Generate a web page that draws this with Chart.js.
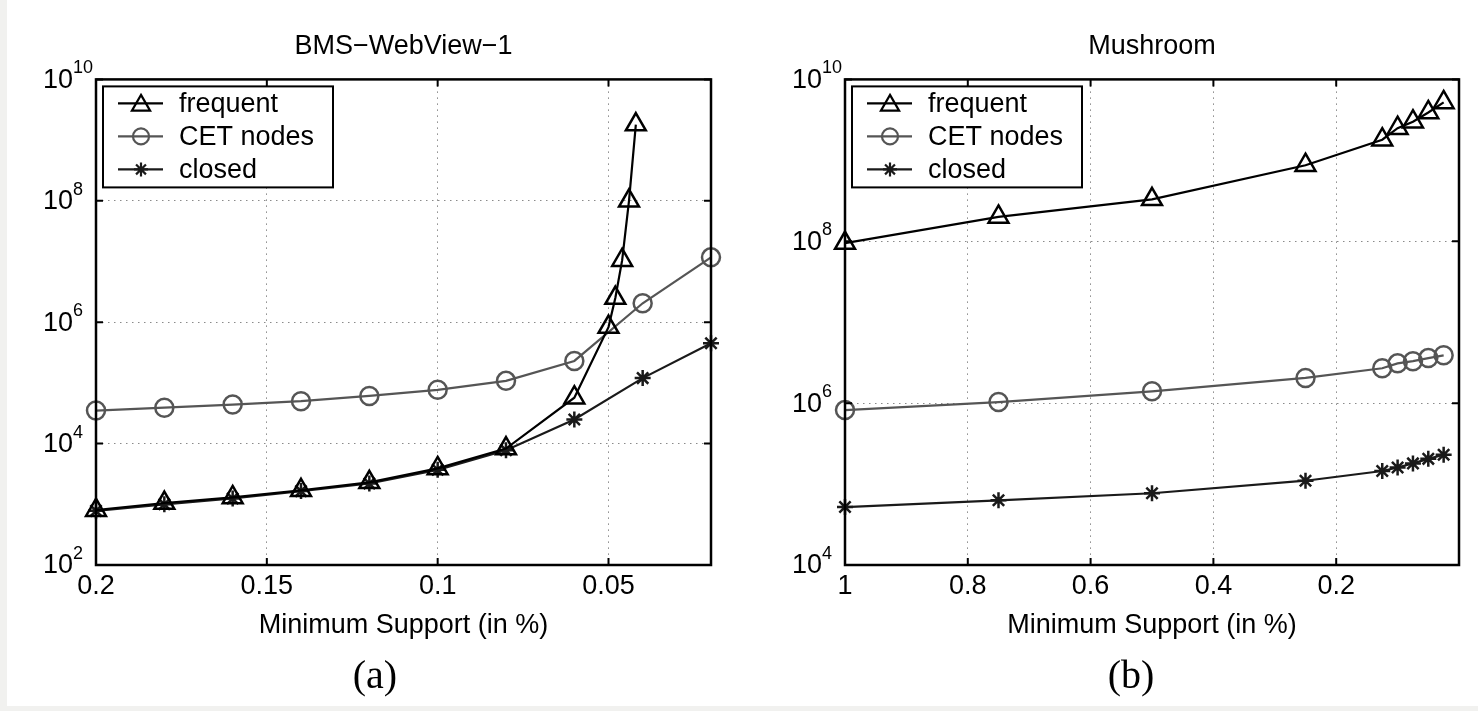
<!DOCTYPE html>
<html>
<head>
<meta charset="utf-8">
<script src="https://cdn.jsdelivr.net/npm/chart.js@4.4.0/dist/chart.umd.min.js"></script>
<style>
  html, body { margin: 0; padding: 0; }
  body { width: 1478px; height: 711px; background: #f1f1ef; position: relative; overflow: hidden; }
  #sheet { position: absolute; left: 7px; top: 0; width: 1471px; height: 706px; background: #fff; }
  .panel { position: absolute; top: 0; height: 711px; }
  #panelA { left: 0; width: 740px; }
  #panelB { left: 740px; width: 738px; }
  .cap { position: absolute; top: 655px; font-family: "Liberation Serif", "DejaVu Serif", serif; font-size: 40px; line-height: 1; transform: translateX(-50%); color: #000; }
</style>
</head>
<body>
<div id="sheet"></div>
<div class="panel" id="panelA"><canvas id="chartA"></canvas></div>
<div class="panel" id="panelB"><canvas id="chartB"></canvas></div>
<div class="cap" style="left:375px">(a)</div>
<div class="cap" style="left:1131px">(b)</div>
<script>
const seriesNames = ["frequent", "CET nodes", "closed"];

// (a) BMS-WebView-1
const supportA = [0.2, 0.18, 0.16, 0.14, 0.12, 0.1, 0.08, 0.06, 0.04, 0.02];
const supportFreqA = [0.2, 0.18, 0.16, 0.14, 0.12, 0.1, 0.08, 0.06, 0.05, 0.048, 0.046, 0.044, 0.042];
const frequentA = [800, 1050, 1300, 1700, 2300, 3900, 8300, 57000, 830000, 2.5e6, 1.05e7, 1e8, 1.8e9];
const cetA = [35000, 39000, 44000, 50000, 61000, 77000, 108000, 230000, 2.05e6, 1.17e7];
const closedA = [780, 1000, 1250, 1650, 2200, 3700, 7800, 25000, 120000, 450000];
const xTicksA = [0.2, 0.15, 0.1, 0.05];
const yTicksA = [1e2, 1e4, 1e6, 1e8, 1e10];

// (b) Mushroom
const supportB = [1, 0.75, 0.5, 0.25, 0.125, 0.1, 0.075, 0.05, 0.025];
const frequentB = [9.5e7, 2e8, 3.3e8, 8.7e8, 1.8e9, 2.5e9, 3e9, 3.9e9, 5.2e9];
const cetB = [8.2e5, 1.03e6, 1.4e6, 2.05e6, 2.7e6, 3.1e6, 3.3e6, 3.6e6, 3.9e6];
const closedB = [52000, 63000, 77000, 110000, 145000, 160000, 180000, 205000, 230000];
const xTicksB = [1, 0.8, 0.6, 0.4, 0.2];
const yTicksB = [1e4, 1e6, 1e8, 1e10];

const FONT = '"Liberation Sans", Arial, sans-serif';
const FS = 27;
Chart.defaults.font.family = FONT;
Chart.defaults.color = "#000";

const looks = [
  { color: "#000", style: "triangle", r: 11.5 },
  { color: "#555", style: "circle", r: 9 },
  { color: "#1a1a1a", style: "star", r: 8 },
];

function pts(xs, ys) {
  return xs.map((x, i) => ({ x: x, y: ys[i] }));
}

function drawMarker(ctx, style, x, y, r) {
  ctx.beginPath();
  if (style === "triangle") {
    for (let k = 0; k < 3; k++) {
      const a = k * 2 * Math.PI / 3;
      const px = x + Math.sin(a) * r, py = y - Math.cos(a) * r;
      k ? ctx.lineTo(px, py) : ctx.moveTo(px, py);
    }
    ctx.closePath();
  } else if (style === "circle") {
    ctx.arc(x, y, r, 0, Math.PI * 2);
  } else {
    for (let k = 0; k < 4; k++) {
      const a = k * Math.PI / 4;
      ctx.moveTo(x - Math.cos(a) * r, y - Math.sin(a) * r);
      ctx.lineTo(x + Math.cos(a) * r, y + Math.sin(a) * r);
    }
  }
  ctx.stroke();
}

// box, inward ticks, 10^n labels and the legend
const frame = {
  id: "frame",
  afterDraw(chart) {
    const { ctx, chartArea: a, scales: { x, y } } = chart;
    ctx.save();
    ctx.strokeStyle = "#000";
    ctx.lineWidth = 2;
    ctx.beginPath();
    x.ticks.forEach(t => {
      const px = x.getPixelForValue(t.value);
      ctx.moveTo(px, a.bottom); ctx.lineTo(px, a.bottom - 7);
      ctx.moveTo(px, a.top); ctx.lineTo(px, a.top + 7);
    });
    y.ticks.forEach(t => {
      const py = y.getPixelForValue(t.value);
      ctx.moveTo(a.left, py); ctx.lineTo(a.left + 7, py);
      ctx.moveTo(a.right, py); ctx.lineTo(a.right - 7, py);
    });
    ctx.stroke();
    ctx.lineWidth = 2.5;
    ctx.strokeRect(a.left, a.top, a.right - a.left, a.bottom - a.top);

    ctx.fillStyle = "#000";
    y.ticks.forEach(t => {
      const py = y.getPixelForValue(t.value);
      const e = Math.round(Math.log10(t.value));
      ctx.font = FS + "px " + FONT;
      ctx.textAlign = "right";
      ctx.textBaseline = "middle";
      ctx.fillText("10", a.left - 23, py + 1);
      ctx.font = "18px " + FONT;
      ctx.textAlign = "left";
      ctx.textBaseline = "alphabetic";
      ctx.fillText(String(e), a.left - 23, py - 6);
    });

    // legend
    const lx = a.left + 7, ly = a.top + 7;
    ctx.fillStyle = "#fff";
    ctx.fillRect(lx, ly, 230, 101);
    ctx.lineWidth = 2;
    ctx.strokeStyle = "#000";
    ctx.strokeRect(lx, ly, 230, 101);
    chart.data.datasets.forEach((ds, i) => {
      const ry = ly + 17 + i * 33;
      ctx.strokeStyle = ds.borderColor;
      ctx.lineWidth = 2.2;
      ctx.beginPath();
      ctx.moveTo(lx + 15, ry); ctx.lineTo(lx + 60, ry);
      ctx.stroke();
      drawMarker(ctx, looks[i].style, lx + 38, ry + (looks[i].style === "triangle" ? 2 : 0), looks[i].r - 1);
      ctx.fillStyle = "#000";
      ctx.font = FS + "px " + FONT;
      ctx.textAlign = "left";
      ctx.textBaseline = "middle";
      ctx.fillText(ds.label, lx + 76, ry + 1);
    });
    ctx.restore();
  }
};

function makeChart(id, title, series, xMin, xMax, xTicks, yMin, yMax, yTicks, leftW, rightPad) {
  const datasets = series.map((s, i) => ({
    label: seriesNames[i],
    data: s,
    borderColor: looks[i].color,
    backgroundColor: "transparent",
    borderWidth: 2.2,
    pointStyle: looks[i].style,
    pointRadius: looks[i].r,
    pointBorderWidth: 2.5,
    pointBorderColor: looks[i].color,
    pointBackgroundColor: "transparent",
    showLine: true,
    tension: 0,
    clip: false,
  }));
  return new Chart(document.getElementById(id), {
    type: "scatter",
    data: { datasets },
    options: {
      responsive: true,
      maintainAspectRatio: false,
      animation: false,
      events: [],
      layout: { padding: { left: 0, right: rightPad, top: 0, bottom: 0 } },
      plugins: {
        legend: { display: false },
        tooltip: { enabled: false },
        title: {
          display: true, text: title, fullSize: false,
          font: { size: FS, weight: "normal" },
          padding: { top: 30, bottom: 17 },
        },
      },
      scales: {
        x: {
          type: "linear", reverse: true, min: xMin, max: xMax,
          afterBuildTicks: s => { s.ticks = xTicks.map(v => ({ value: v })); },
          afterFit: s => { s.height = 146; },
          ticks: { font: { size: FS }, padding: 5, callback: v => String(v) },
          grid: { color: "#8a8a8a", lineWidth: 1, drawTicks: false },
          border: { display: false, dash: [1.5, 4.5] },
          title: {
            display: true, text: "Minimum Support (in %)",
            font: { size: FS }, padding: { top: 0, bottom: 69 },
          },
        },
        y: {
          type: "logarithmic", min: yMin, max: yMax,
          afterBuildTicks: s => { s.ticks = yTicks.map(v => ({ value: v })); },
          afterFit: s => { s.width = leftW; },
          ticks: { display: false },
          grid: { color: "#8a8a8a", lineWidth: 1, drawTicks: false },
          border: { display: false, dash: [1.5, 4.5] },
        },
      },
    },
    plugins: [frame],
  });
}

makeChart("chartA", "BMS\u2212WebView\u22121",
  [pts(supportFreqA, frequentA), pts(supportA, cetA), pts(supportA, closedA)],
  0.02, 0.2, xTicksA, 1e2, 1e10, yTicksA, 96, 29);

makeChart("chartB", "Mushroom",
  [pts(supportB, frequentB), pts(supportB, cetB), pts(supportB, closedB)],
  0, 1, xTicksB, 1e4, 1e10, yTicksB, 105, 19);
</script>
</body>
</html>
